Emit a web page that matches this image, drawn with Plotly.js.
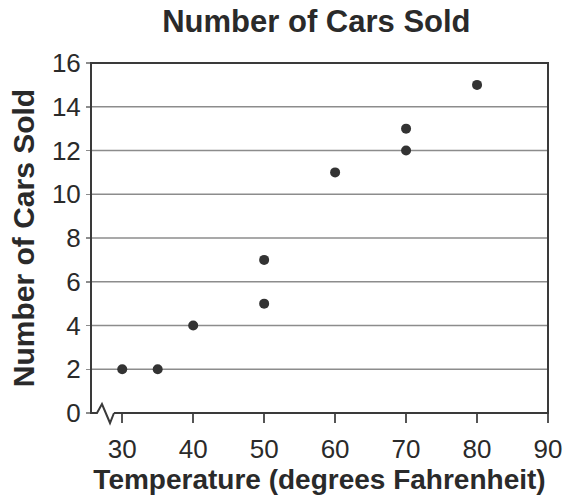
<!DOCTYPE html>
<html>
<head>
<meta charset="utf-8">
<script src="https://cdn.plot.ly/plotly-3.0.1.min.js"></script>
<style>html,body{margin:0;padding:0;background:#fff;}#chart{width:566px;height:498px;}</style>
</head>
<body>
<div id="chart"></div>
<script>
// Data
const temperature = [30, 35, 40, 50, 50, 60, 70, 70, 80];
const carsSold    = [2, 2, 4, 5, 7, 11, 12, 13, 15];
const xTicks = [30, 40, 50, 60, 70, 80, 90];
const yTicks = [0, 2, 4, 6, 8, 10, 12, 14, 16];
const gridValues = [2, 4, 6, 8, 10, 12, 14];

const FONT = "Liberation Sans, Arial, Helvetica, sans-serif";
const TXT = "#2a2a2a";

const shapes = gridValues.map(v => ({
  type: 'line', xref: 'paper', yref: 'y', x0: 0, x1: 1, y0: v, y1: v,
  line: {color: '#8c8c8c', width: 1.6}, layer: 'below'
}));
// Frame with axis-break zigzag at lower left
shapes.push({
  type: 'path', xref: 'paper', yref: 'paper', layer: 'above',
  path: 'M 0.0503,0 L 1,0 L 1,1 L 0,1 L 0,0 L 0.0131,0 L 0.024,0.0257 L 0.0416,-0.0286 L 0.0503,0',
  line: {color: '#3a3a3a', width: 2}
});

const trace = {
  type: 'scatter', mode: 'markers', x: temperature, y: carsSold,
  marker: {color: '#333333', size: 10}, cliponaxis: false, hoverinfo: 'x+y'
};

const layout = {
  width: 566, height: 498,
  margin: {l: 91, r: 18, t: 63, b: 85},
  paper_bgcolor: '#ffffff', plot_bgcolor: '#ffffff',
  showlegend: false,
  font: {family: FONT, color: TXT},
  title: {
    text: 'Number of Cars Sold',
    font: {family: FONT, size: 31, weight: 'bold', color: TXT},
    x: 0.559, xanchor: 'center', y: 0.958, yanchor: 'middle'
  },
  xaxis: {
    range: [25.6, 90], tickvals: xTicks, ticktext: xTicks.map(String),
    showgrid: false, zeroline: false, showline: false,
    ticks: 'outside', ticklen: 9, tickwidth: 1.5, tickcolor: '#555',
    ticklabelstandoff: 4,
    tickfont: {family: FONT, size: 26, color: TXT},
    title: {text: 'Temperature (degrees Fahrenheit)', standoff: 6,
            font: {family: FONT, size: 28, weight: 'bold', color: TXT}},
    fixedrange: true
  },
  yaxis: {
    range: [0, 16], tickvals: yTicks, ticktext: yTicks.map(String),
    showgrid: false, zeroline: false, showline: false,
    ticks: 'outside', ticklen: 4, tickwidth: 1.5, tickcolor: '#8c8c8c',
    ticklabelstandoff: 0,
    tickfont: {family: FONT, size: 26, color: TXT},
    title: {text: 'Number of Cars Sold', standoff: 8,
            font: {family: FONT, size: 30, weight: 'bold', color: TXT}},
    fixedrange: true
  },
  shapes: shapes
};

Plotly.newPlot('chart', [trace], layout, {displayModeBar: false, staticPlot: true});
</script>
</body>
</html>
